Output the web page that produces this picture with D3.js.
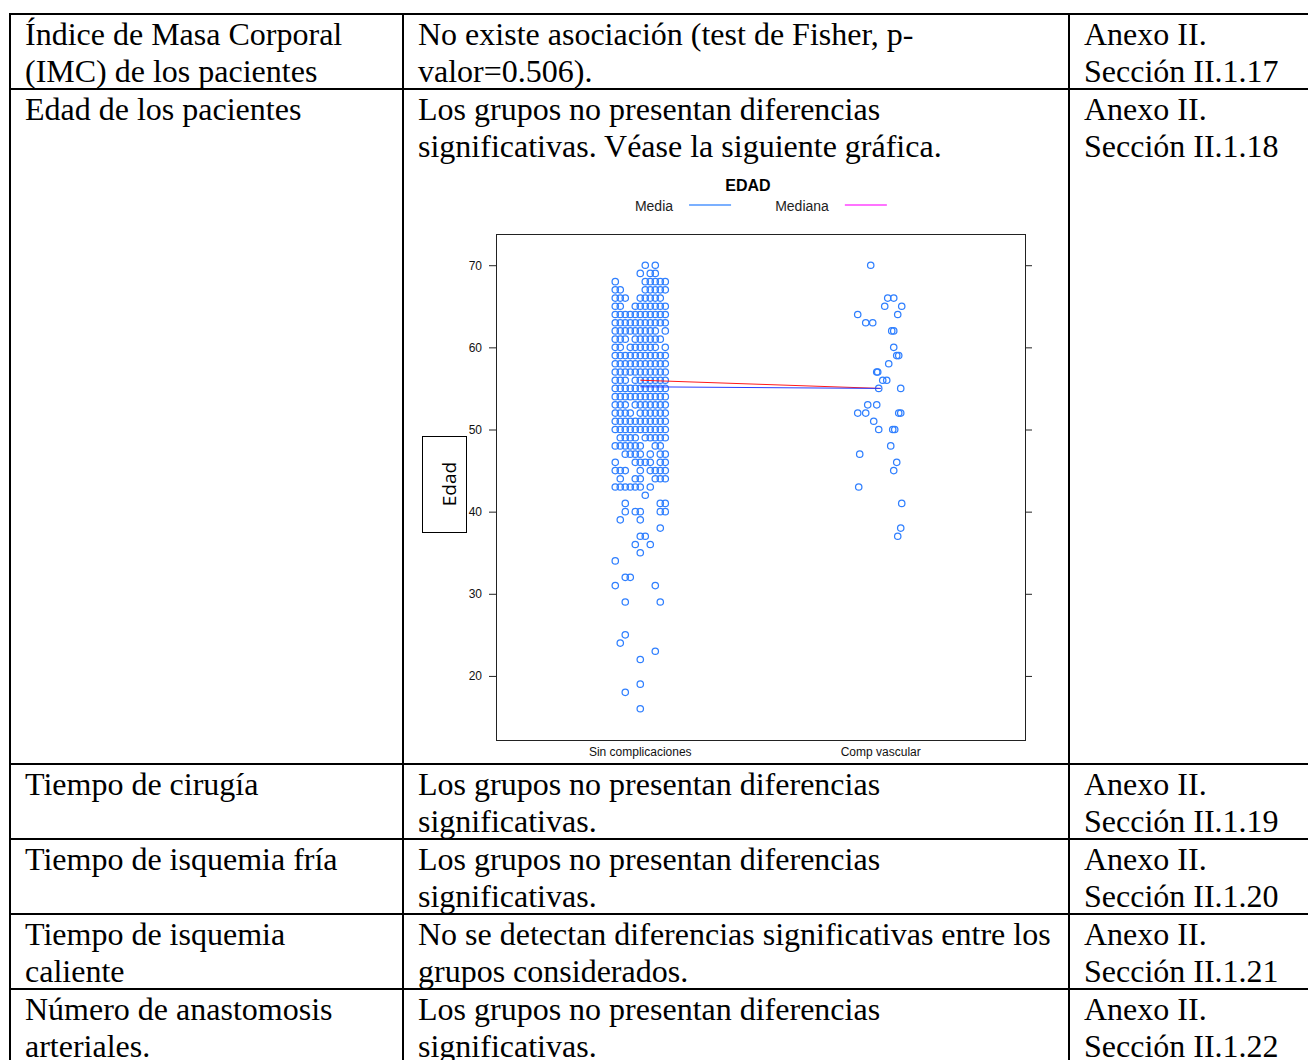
<!DOCTYPE html>
<html><head><meta charset="utf-8">
<script src="https://cdn.jsdelivr.net/npm/d3@7"></script>
<style>body{margin:0;background:#fff}</style>
</head><body><svg id="c" width="1308" height="1060"></svg>
<script>
// ---------- Table content ----------
const tableCol1 = [
  ["Índice de Masa Corporal", "(IMC) de los pacientes"],
  ["Edad de los pacientes"],
  ["Tiempo de cirugía"],
  ["Tiempo de isquemia fría"],
  ["Tiempo de isquemia", "caliente"],
  ["Número de anastomosis", "arteriales."]
];
const tableCol2 = [
  ["No existe asociación (test de Fisher, p-", "valor=0.506)."],
  ["Los grupos no presentan diferencias", "significativas. Véase la siguiente gráfica."],
  ["Los grupos no presentan diferencias", "significativas."],
  ["Los grupos no presentan diferencias", "significativas."],
  ["No se detectan diferencias significativas entre los", "grupos considerados."],
  ["Los grupos no presentan diferencias", "significativas."]
];
const tableCol3 = [
  ["Anexo II.", "Sección II.1.17"],
  ["Anexo II.", "Sección II.1.18"],
  ["Anexo II.", "Sección II.1.19"],
  ["Anexo II.", "Sección II.1.20"],
  ["Anexo II.", "Sección II.1.21"],
  ["Anexo II.", "Sección II.1.22"]
];

// ---------- Chart data ----------
const chartTitle = "EDAD";
const legendLabels = ["Media", "Mediana"];
const groups = ["Sin complicaciones", "Comp vascular"];
const yTicks = [20, 30, 40, 50, 60, 70];
// Group 1: ages and jitter-slot occupancy (11 slots across the jitter width)
const sinCompAges = [70,69,68,67,66,65,64,63,62,61,60,59,58,57,56,55,54,53,52,51,50,49,48,47,46,45,44,43,42,41,40,39,38,37,36,35,34,32,31,29,25,24,23,22,19,18,16];
const sinCompSlots = [
  "......X.X..", ".....X.XX..", "X.....XXXXX", "XX....XXXXX", "XXX..XXXXX.",
  "XX..XXXXXXX", "XXXXXXXXXXX", "XXXXXXXXXXX", "XXXXXXXXX.X", "XXX.XXXXXX.",
  "XX.XXXXXX.X", "XXXXXXXXXXX", "XXXXXXXXXXX", "XXXXXXXXXXX", "XXX.XXXXXXX",
  "XXXXXXXXXXX", "XXXXXXXXXXX", "XXX.XXXXXXX", "XXXX.XXXXXX", "XXXXXXXXXXX",
  "XXXXXXXXXXX", ".XXXX.XXXXX", "XXXXXX..XX.", "..XXXX.X.XX", "X...XXXX.XX",
  "XXX..X.XXXX", ".X..XX..XXX", "XXXXXX.X...", "......X....", "..X......XX",
  "..X.XX...XX", ".X...X.....", ".........X.", ".....XX....", "....X..X...",
  ".....X.....", "X..........", "..XX.......", "X.......X..", "..X......X.",
  "..X........", ".X.........", "........X..", ".....X.....", ".....X.....",
  "..X........", ".....X....."
];
// Group 2: individual ages and jitter (slot units)
const compVascAges   = [70, 66,66, 65,65, 64,64, 63,63, 62,62, 60, 59,59, 58, 57,57, 56,56, 55,55, 53,53, 52,52,52,52, 51, 50,50,50, 48, 47, 46, 45, 43, 41, 38, 37];
const compVascJitter = [-2, 1.4,2.6, 0.8,4.2, -4.6,3.4, -3,-1.6, 2.2,2.6, 2.6, 3.2,3.6, 1.6, -0.8,-0.6, 0.4,1.2, -0.4,4, -2.6,-0.8, -4.6,-3,3.6,4, -1.4, -0.4,2.4,2.8, 2, -4.2, 3.2, 2.6, -4.4, 4.2, 4, 3.4];
const groupMeans   = [55.2, 55.0];
const groupMedians = [56, 55];

// ---------- Drawing ----------
const svg = d3.select("#c");
svg.append("rect").attr("width", 1308).attr("height", 1060).attr("fill", "#fff");

// Table grid
const colX = [10, 403, 1069];
const rowY = [14, 89, 764, 839, 914, 989];
const grid = svg.append("g").attr("stroke", "#000").attr("shape-rendering", "crispEdges");
rowY.forEach((y, i) => grid.append("line").attr("x1", 10).attr("x2", 1308).attr("y1", y).attr("y2", y)
  .attr("stroke-width", i === 0 ? 2 : 1.3));
colX.forEach(x => grid.append("line").attr("x1", x).attr("x2", x).attr("y1", 13).attr("y2", 1060).attr("stroke-width", 1.3));

const textX = [25, 418, 1084];
const tcols = [tableCol1, tableCol2, tableCol3];
const tg = svg.append("g").attr("font-family", "'Liberation Serif', 'Times New Roman', serif")
  .attr("font-size", 32).attr("fill", "#000");
tcols.forEach((col, ci) => {
  col.forEach((lines, ri) => {
    lines.forEach((ln, li) => {
      tg.append("text").attr("x", textX[ci]).attr("y", rowY[ri] + 31 + li * 37).text(ln);
    });
  });
});

// Chart
const x = d3.scaleLinear().domain([0.4, 2.6]).range([496, 1025]);
const y = d3.scaleLinear().domain([12.2, 73.8]).range([740, 234]);
const slotUnit = 0.0208;

const chart = svg.append("g").attr("font-family", "'Liberation Sans', Arial, sans-serif");

// title & legend
chart.append("text").attr("x", 748).attr("y", 191).attr("text-anchor", "middle")
  .attr("font-weight", "bold").attr("font-size", 16).text(chartTitle);
const legColors = ["#4f96ff", "#ff44ff"];
const legX = [654, 802];
legendLabels.forEach((lab, i) => {
  const t = chart.append("text").attr("x", legX[i]).attr("y", 211).attr("text-anchor", "middle")
    .attr("font-size", 14).attr("fill", "#222").text(lab);
  const w = t.node().getComputedTextLength();
  const x0 = legX[i] + w / 2 + 16;
  chart.append("line").attr("x1", x0).attr("x2", x0 + 42).attr("y1", 205).attr("y2", 205)
    .attr("stroke", legColors[i]).attr("stroke-width", 1.4);
});

// panel
chart.append("rect").attr("x", 496).attr("y", 234).attr("width", 529).attr("height", 506)
  .attr("fill", "none").attr("stroke", "#222").attr("stroke-width", 1).attr("shape-rendering", "crispEdges");

const yl = chart.append("g").attr("transform", "translate(496,0)")
  .call(d3.axisLeft(y).tickValues(yTicks).tickSize(7).tickPadding(7));
const yr = chart.append("g").attr("transform", "translate(1025,0)")
  .call(d3.axisRight(y).tickValues(yTicks).tickSize(7).tickFormat(""));
[yl, yr].forEach(a => {
  a.select(".domain").remove();
  a.selectAll("text").attr("font-size", 12).attr("font-family", "'Liberation Sans', Arial, sans-serif").attr("fill", "#111");
  a.selectAll("line").attr("stroke", "#222");
});

// x labels
groups.forEach((g, i) => {
  chart.append("text").attr("x", x(i + 1)).attr("y", 756).attr("text-anchor", "middle")
    .attr("font-size", 12).attr("fill", "#111").text(g);
});

// points
const pts = [];
sinCompAges.forEach((age, r) => {
  sinCompSlots[r].split("").forEach((c, s) => {
    if (c === "X") pts.push({ g: 1, j: (s - 5) * slotUnit, v: age });
  });
});
compVascAges.forEach((age, k) => pts.push({ g: 2, j: compVascJitter[k] * slotUnit, v: age }));

chart.append("g").selectAll("circle").data(pts).join("circle")
  .attr("cx", d => x(d.g + d.j)).attr("cy", d => y(d.v)).attr("r", 3.2)
  .attr("fill", "none").attr("stroke", "#2f7fff").attr("stroke-width", 1.25);

// mean and median lines
const lineGen = d3.line().x((d, i) => x(i + 1)).y(d => y(d));
chart.append("path").datum(groupMedians).attr("d", lineGen).attr("fill", "none")
  .attr("stroke", "#ff1a1a").attr("stroke-width", 1);
chart.append("path").datum(groupMeans).attr("d", lineGen).attr("fill", "none")
  .attr("stroke", "#2a3cff").attr("stroke-width", 1);

// y label box
chart.append("rect").attr("x", 422).attr("y", 436).attr("width", 44).attr("height", 96)
  .attr("fill", "#fff").attr("stroke", "#000").attr("stroke-width", 1).attr("shape-rendering", "crispEdges");
chart.append("text").attr("transform", "translate(449,484) rotate(-90)")
  .attr("text-anchor", "middle").attr("dominant-baseline", "central")
  .attr("font-family", "'Open Sans', sans-serif").attr("font-size", 19).attr("fill", "#000").text("Edad");
</script>
</body></html>
